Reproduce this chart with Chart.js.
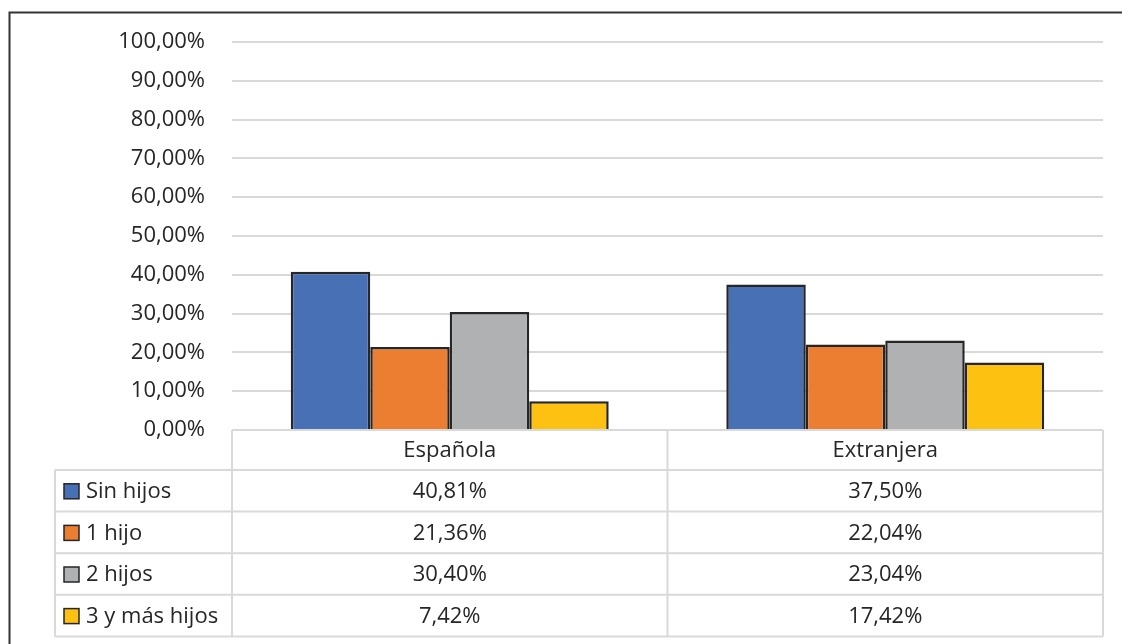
<!DOCTYPE html>
<html>
<head>
<meta charset="utf-8">
<script src="https://cdn.jsdelivr.net/npm/chart.js@4"></script>
<style>
  body { margin: 0; background: #fff; }
  canvas { display: block; }
</style>
</head>
<body>
<canvas id="chart" width="1122" height="644"></canvas>
<script>
// data
const categories = ['Española', 'Extranjera'];
const seriesNames = ['Sin hijos', '1 hijo', '2 hijos', '3 y más hijos'];
const sinHijos = [40.81, 37.50];
const unHijo = [21.36, 22.04];
const dosHijos = [30.40, 23.04];
const tresYMas = [7.42, 17.42];
const seriesColors = ['#4870b4', '#ec7e32', '#b0b1b2', '#fdc112'];

const FONT = '"Open Sans", "Noto Sans", sans-serif';
const TEXT = '#262626';
const LINE = '#d9d9d9';

function pct(v) {
    return v.toFixed(2).replace('.', ',') + '%';
}

// frame + data table under the plot
const tablePlugin = {
    id: 'dataTable',
    afterDraw(chart) {
        const ctx = chart.ctx;
        const area = chart.chartArea;
        const x = chart.scales.x;
        const sets = chart.data.datasets;

        ctx.save();
        // outer frame (right/bottom run off the picture)
        ctx.strokeStyle = '#333333';
        ctx.lineWidth = 2;
        ctx.beginPath();
        ctx.moveTo(9.5, 700);
        ctx.lineTo(9.5, 12.5);
        ctx.lineTo(1130, 12.5);
        ctx.stroke();

        const tableLeft = 55;
        const headTop = area.bottom;
        const headBottom = headTop + 40;
        const rowH = 41.6;
        const tableBottom = headBottom + rowH * sets.length;
        const mid = (x.getPixelForValue(0) + x.getPixelForValue(1)) / 2;
        const cols = [area.left, mid, area.right];

        ctx.strokeStyle = LINE;
        ctx.lineWidth = 2;
        ctx.beginPath();
        cols.forEach(c => {
            ctx.moveTo(c, headTop);
            ctx.lineTo(c, tableBottom);
        });
        ctx.moveTo(tableLeft, headBottom);
        ctx.lineTo(tableLeft, tableBottom);
        for (let i = 0; i <= sets.length; i++) {
            const y = headBottom + rowH * i;
            ctx.moveTo(tableLeft, y);
            ctx.lineTo(area.right, y);
        }
        ctx.stroke();

        ctx.font = '22px ' + FONT;
        ctx.fillStyle = TEXT;
        ctx.textBaseline = 'middle';
        ctx.textAlign = 'center';
        categories.forEach((c, j) => {
            ctx.fillText(c, (cols[j] + cols[j + 1]) / 2, (headTop + headBottom) / 2 + 1);
        });

        sets.forEach((ds, i) => {
            const cy = headBottom + rowH * i + rowH / 2;
            ctx.fillStyle = ds.backgroundColor;
            ctx.fillRect(64, cy - 7, 15, 15);
            ctx.strokeStyle = '#262626';
            ctx.lineWidth = 1.5;
            ctx.strokeRect(64, cy - 7, 15, 15);
            ctx.fillStyle = TEXT;
            ctx.textAlign = 'left';
            ctx.fillText(ds.label, 86, cy + 1);
            ctx.textAlign = 'center';
            ds.data.forEach((v, j) => {
                ctx.fillText(pct(v), (cols[j] + cols[j + 1]) / 2, cy + 1);
            });
        });
        ctx.restore();
    }
};

const seriesValues = [sinHijos, unHijo, dosHijos, tresYMas];

new Chart(document.getElementById('chart').getContext('2d'), {
    type: 'bar',
    data: {
        labels: categories,
        datasets: seriesNames.map((name, i) => ({
            label: name,
            data: seriesValues[i],
            backgroundColor: seriesColors[i],
            borderColor: '#262626',
            borderWidth: 2.5,
            categoryPercentage: 0.73,
            barPercentage: 1
        }))
    },
    options: {
        responsive: false,
        animation: false,
        layout: {
            padding: { top: 42, bottom: 214, right: 19, left: 0 }
        },
        plugins: {
            legend: { display: false },
            tooltip: { enabled: false }
        },
        scales: {
            x: { display: false },
            y: {
                min: 0,
                max: 100,
                afterFit(scale) { scale.width = 232; },
                border: { display: false },
                grid: { color: LINE, lineWidth: 2, drawTicks: false },
                ticks: {
                    stepSize: 10,
                    padding: 27,
                    color: TEXT,
                    font: { family: FONT, size: 22 },
                    callback: v => pct(v)
                }
            }
        }
    },
    plugins: [tablePlugin]
});
</script>
</body>
</html>
